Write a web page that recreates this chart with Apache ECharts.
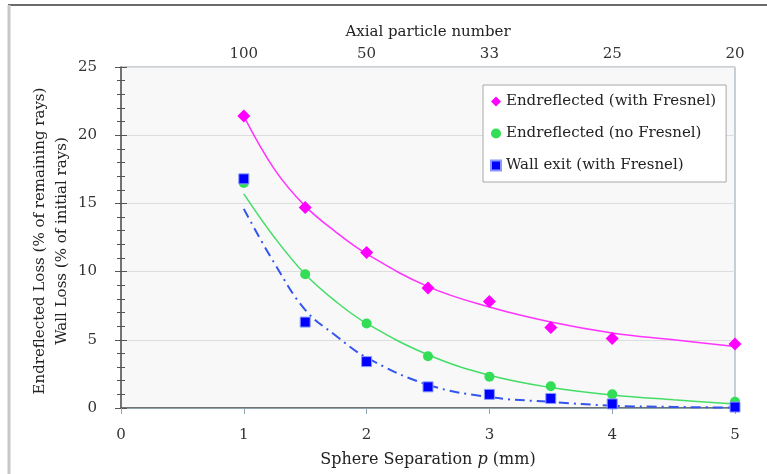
<!DOCTYPE html>
<html>
<head>
<meta charset="utf-8">
<script src="https://cdn.jsdelivr.net/npm/echarts@6/dist/echarts.min.js"></script>
<style>
  html, body { margin: 0; padding: 0; background: #fff; }
  #chart { width: 767px; height: 474px; }
</style>
</head>
<body>
<div id="chart"></div>
<script>
// Sphere separation p (mm) for the measured points
const separation = [1, 1.5, 2, 2.5, 3, 3.5, 4, 5];
const endWithFresnel = [21.4, 14.7, 11.4, 8.8, 7.8, 5.9, 5.1, 4.7];
const endNoFresnel = [16.5, 9.8, 6.2, 3.8, 2.3, 1.6, 1.0, 0.45];
const wallExit = [16.8, 6.3, 3.4, 1.55, 1.0, 0.7, 0.3, 0.07];

// Fitted trend curves sampled along p
const trendX = [1, 1.25, 1.5, 1.75, 2, 2.5, 3, 3.5, 4, 4.5, 5];
const trendWithFresnel = [21.4, 17.5, 14.8, 12.9, 11.3, 8.9, 7.4, 6.3, 5.5, 5.0, 4.5];
const trendNoFresnel = [15.7, 12.5, 9.8, 7.8, 6.2, 3.9, 2.4, 1.5, 0.95, 0.6, 0.3];
const trendWall = [14.6, 10.6, 7.2, 5.3, 3.7, 1.7, 0.8, 0.45, 0.17, 0.08, 0.03];

// Axial particle number shown above the separation ticks
const topTickValues = [1, 2, 3, 4, 5];
const topTickLabels = ['100', '50', '33', '25', '20'];

// Y axis title, two lines
const yTitleLines = ['Endreflected Loss (% of remaining rays)', 'Wall Loss (% of initial rays)'];

const names = ['Endreflected (with Fresnel)', 'Endreflected (no Fresnel)', 'Wall exit (with Fresnel)'];
const SERIF = '"DejaVu Serif", serif';

function pairs(xs, ys) { return xs.map((x, i) => [x, ys[i]]); }

const chart = echarts.init(document.getElementById('chart'), null, { renderer: 'canvas' });

function yTitle(text, x) {
  return {
    type: 'text', x: x, y: 241, rotation: Math.PI / 2,
    style: {
      text: text, fontFamily: SERIF, fontSize: 15, fill: '#222',
      align: 'center', verticalAlign: 'middle'
    }
  };
}

chart.setOption({
  animation: false,
  backgroundColor: '#ffffff',
  textStyle: { fontFamily: SERIF },
  grid: {
    left: 121, right: 32, top: 67, bottom: 66,
    show: true, backgroundColor: '#f8f8f8', borderColor: '#8fa3ad', borderWidth: 1
  },
  graphic: [
    { type: 'line', shape: { x1: 8, y1: 5, x2: 767, y2: 5 }, style: { stroke: '#3a3a3a', lineWidth: 1.5 } },
    { type: 'line', shape: { x1: 9, y1: 5, x2: 9, y2: 474 }, style: { stroke: '#c8c8c8', lineWidth: 3 } },
    yTitle(yTitleLines[0], 40),
    yTitle(yTitleLines[1], 62)
  ],
  legend: {
    orient: 'vertical',
    left: 483, top: 85,
    width: 238,
    padding: [9, 10, 9, 7],
    itemGap: 17,
    itemWidth: 10, itemHeight: 10,
    backgroundColor: '#ffffff',
    borderColor: '#a8a8a8', borderWidth: 1,
    textStyle: { fontFamily: SERIF, fontSize: 15, color: '#222' },
    data: [
      { name: names[0], icon: 'diamond' },
      { name: names[1], icon: 'circle' },
      { name: names[2], icon: 'rect' }
    ]
  },
  xAxis: [
    {
      type: 'value', min: 0, max: 5, interval: 1, position: 'bottom',
      name: '{n|Sphere Separation }{i|p}{n| (mm)}',
      nameLocation: 'middle', nameGap: 44,
      nameTextStyle: {
        rich: {
          n: { fontFamily: SERIF, fontSize: 16, color: '#222' },
          i: { fontFamily: SERIF, fontSize: 16, color: '#222', fontStyle: 'italic' }
        }
      },
      axisLine: { lineStyle: { color: '#555', width: 1.5 } },
      axisTick: { inside: false, length: 6, lineStyle: { color: '#555' } },
      axisLabel: { margin: 20, fontFamily: SERIF, fontSize: 15, color: '#333' },
      splitLine: { show: false }
    },
    {
      type: 'value', min: 0, max: 5, interval: 1, position: 'top',
      name: 'Axial particle number',
      nameLocation: 'middle', nameGap: 27,
      nameTextStyle: { fontFamily: SERIF, fontSize: 15, color: '#222' },
      axisLine: { lineStyle: { color: '#8fa3ad', width: 1 } },
      axisTick: { inside: true, length: 6, lineStyle: { color: '#8fa3ad' } },
      axisLabel: {
        margin: 5, fontFamily: SERIF, fontSize: 15, color: '#333',
        formatter: v => { const k = topTickValues.indexOf(v); return k >= 0 ? topTickLabels[k] : ''; }
      },
      splitLine: { show: false }
    }
  ],
  yAxis: [
    {
      type: 'value', min: 0, max: 25, interval: 5, position: 'left',
      axisLine: { lineStyle: { color: '#555', width: 1.5 } },
      axisTick: { inside: false, length: 6, lineStyle: { color: '#555' } },
      minorTick: { show: true, splitNumber: 5, length: 4, lineStyle: { color: '#555' } },
      axisLabel: { margin: 24, align: 'right', fontFamily: SERIF, fontSize: 15, color: '#333' },
      splitLine: { show: true, lineStyle: { color: '#dddddd', width: 1 } }
    },
    {
      type: 'value', min: 0, max: 25, interval: 5, position: 'left', offset: 0,
      axisLine: { show: false },
      axisTick: { inside: true, length: 6, lineStyle: { color: '#555' } },
      minorTick: { show: true, splitNumber: 5, length: 4, lineStyle: { color: '#555' } },
      axisLabel: { show: false },
      splitLine: { show: false }
    }
  ],
  series: [
    {
      name: 'trend-with', type: 'line', smooth: 0.4, symbol: 'none', silent: true,
      data: pairs(trendX, trendWithFresnel),
      lineStyle: { color: '#ff33ff', width: 1.5 }, z: 2
    },
    {
      name: 'trend-no', type: 'line', smooth: 0.4, symbol: 'none', silent: true,
      data: pairs(trendX, trendNoFresnel),
      lineStyle: { color: '#44dd66', width: 1.5 }, z: 2
    },
    {
      name: 'trend-wall', type: 'line', smooth: 0.4, symbol: 'none', silent: true,
      data: pairs(trendX, trendWall),
      lineStyle: { color: '#3355ee', width: 2, type: [10, 5, 2, 5] }, z: 2
    },
    {
      name: names[0], type: 'scatter', symbol: 'diamond', symbolSize: 13,
      data: pairs(separation, endWithFresnel),
      itemStyle: { color: '#ff00ff', opacity: 1 }, z: 3
    },
    {
      name: names[1], type: 'scatter', symbol: 'circle', symbolSize: 10,
      data: pairs(separation, endNoFresnel),
      itemStyle: { color: '#33dd55', opacity: 1 }, z: 3
    },
    {
      name: names[2], type: 'scatter', symbol: 'rect', symbolSize: 10,
      data: pairs(separation, wallExit),
      itemStyle: { color: '#0000ff', borderColor: '#8899ff', borderWidth: 1, opacity: 1 }, z: 4
    }
  ]
});
</script>
</body>
</html>
